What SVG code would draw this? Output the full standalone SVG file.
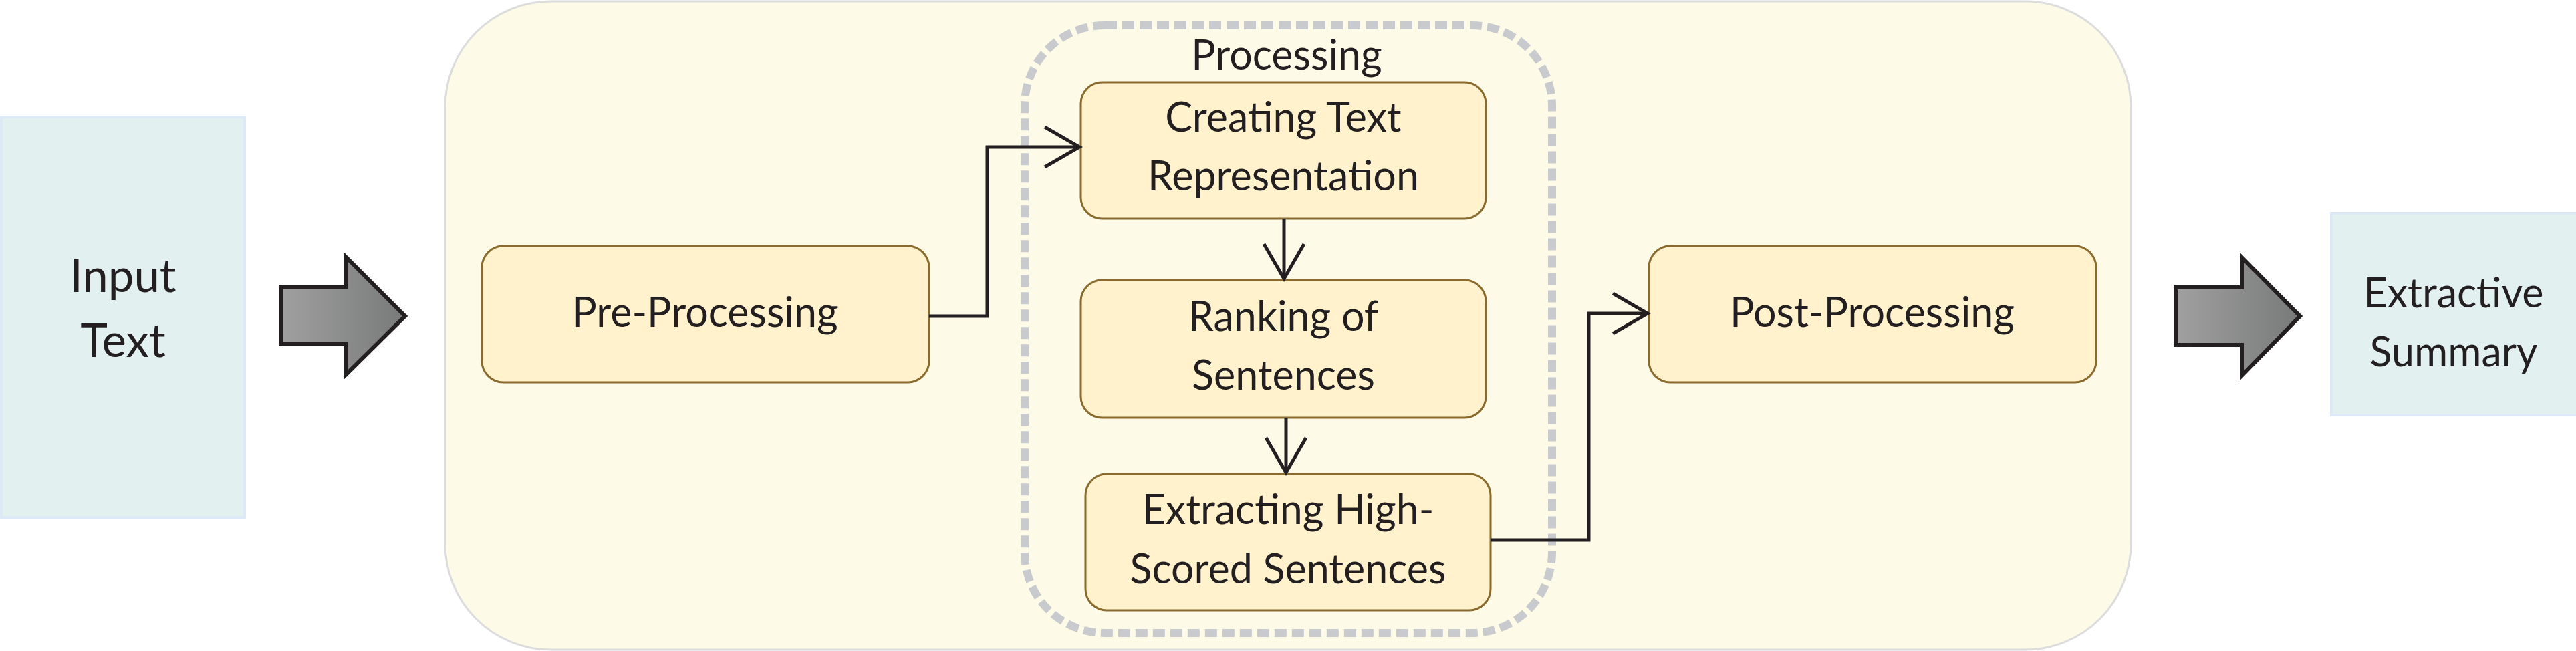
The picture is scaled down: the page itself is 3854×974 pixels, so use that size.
<svg xmlns="http://www.w3.org/2000/svg" width="3854" height="974" viewBox="0 0 3854 974">
<style>
.io{fill:#e2f0f0;stroke:#dde9f6;stroke-width:4}
.node{fill:#fff2cd;stroke:#8a6a2d;stroke-width:3}
.t{font-family:Lato,"Liberation Sans",sans-serif;font-size:61px;fill:#231f20;text-anchor:middle}
.tb{font-family:Lato,"Liberation Sans",sans-serif;font-size:69px;fill:#231f20;text-anchor:middle}
.conn{fill:none;stroke:#231f20;stroke-width:5}
.big{fill:url(#ag);stroke:#231f20;stroke-width:6;stroke-linejoin:miter}
</style>
<defs>
<linearGradient id="ag" x1="0" y1="0" x2="1" y2="0">
<stop offset="0" stop-color="#a0a0a0"/>
<stop offset="1" stop-color="#787979"/>
</linearGradient>
<marker id="open" viewBox="-60 -36 68 72" refX="0" refY="0" markerWidth="68" markerHeight="72" markerUnits="userSpaceOnUse" orient="auto">
<path d="M-52,-30 L0,0 L-52,30" fill="none" stroke="#231f20" stroke-width="5"/>
</marker>
</defs>
<rect width="3854" height="974" fill="#ffffff"/>

<g id="input-text">
<rect class="io" x="2" y="175" width="364" height="599"/>
<text class="tb" x="184" y="437">Input</text>
<text class="tb" x="184" y="534">Text</text>
</g>

<g id="arrow-in">
<polygon class="big" points="420,429 518,429 518,385 606,473 518,560 518,515 420,515"/>
</g>

<g id="pipeline">
<rect x="666" y="2" width="2522" height="970" rx="158" ry="158" fill="#fdfbe8" stroke="#dcdcdc" stroke-width="3"/>
</g>

<g id="processing">
<rect x="1533" y="38" width="789" height="909" rx="120" ry="120" fill="none" stroke="#c9cacd" stroke-width="12" stroke-dasharray="18 8"/>
<text class="t" x="1925" y="104">Processing</text>
</g>

<g id="pre-processing">
<rect class="node" x="721" y="368" width="669" height="204" rx="32" ry="32"/>
<text class="t" x="1055" y="489">Pre-Processing</text>
</g>

<g id="creating-text-representation">
<rect class="node" x="1617" y="123" width="606" height="204" rx="32" ry="32"/>
<text class="t" x="1920" y="197">Creating Text</text>
<text class="t" x="1920" y="285">Representation</text>
</g>

<g id="ranking-of-sentences">
<rect class="node" x="1617" y="419" width="606" height="206" rx="32" ry="32"/>
<text class="t" x="1920" y="495">Ranking of</text>
<text class="t" x="1920" y="583">Sentences</text>
</g>

<g id="extracting-high-scored-sentences">
<rect class="node" x="1624" y="709" width="606" height="204" rx="32" ry="32"/>
<text class="t" x="1927" y="784">Extracting High-</text>
<text class="t" x="1927" y="873">Scored Sentences</text>
</g>

<g id="post-processing">
<rect class="node" x="2467" y="368" width="669" height="204" rx="32" ry="32"/>
<text class="t" x="2801" y="489">Post-Processing</text>
</g>

<g id="arrow-out">
<polygon class="big" points="3255,430 3354,430 3354,385 3441,473 3354,562 3354,516 3255,516"/>
</g>

<g id="extractive-summary">
<rect class="io" x="3488" y="319" width="372" height="302"/>
<text class="t" x="3671" y="460">Extractive</text>
<text class="t" x="3671" y="548">Summary</text>
</g>

<g id="connectors">
<path class="conn" d="M1390,473 H1477 V220 H1615" marker-end="url(#open)"/>
<path class="conn" d="M1921,327 V417" marker-end="url(#open)"/>
<path class="conn" d="M1924,625 V707" marker-end="url(#open)"/>
<path class="conn" d="M2230,808 H2377 V469 H2465" marker-end="url(#open)"/>
</g>
</svg>
